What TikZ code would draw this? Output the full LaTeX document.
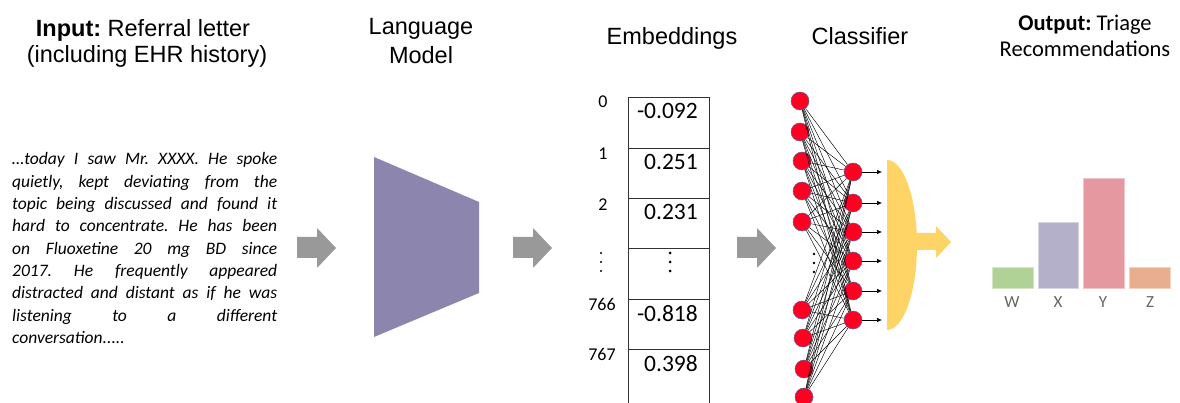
\documentclass[tikz,border=0pt]{standalone}
\usepackage{fontspec}
\setmainfont{Liberation Sans}
\newfontfamily\calfont{Carlito}
\usetikzlibrary{arrows.meta}
\usepackage{xcolor}
\frenchspacing

\definecolor{lmpurple}{RGB}{140,133,174}
\definecolor{arrowgray}{RGB}{153,153,153}
\definecolor{neuronred}{RGB}{255,0,34}
\definecolor{neuronedge}{RGB}{90,95,150}
\definecolor{gateyellow}{RGB}{255,212,102}
\definecolor{barW}{RGB}{176,210,150}
\definecolor{barX}{RGB}{181,176,201}
\definecolor{barY}{RGB}{230,152,160}
\definecolor{barZ}{RGB}{232,174,142}

\tikzset{
  title/.style={anchor=base, inner sep=0, font=\fontsize{23.5}{28}\selectfont},
  outtitle/.style={anchor=base, inner sep=0, font=\calfont\fontsize{22.5}{26}\selectfont},
  letterline/.style={anchor=base west, inner sep=0, font=\calfont\itshape\fontsize{17.5}{22}\selectfont},
  embval/.style={anchor=base east, inner sep=0, font=\calfont\fontsize{23.5}{26}\selectfont},
  embidx/.style={anchor=base, inner sep=0, font=\calfont\fontsize{18}{20}\selectfont},
  neuron/.style={circle, fill=neuronred, draw=neuronedge, line width=0.5pt, minimum size=18pt, inner sep=0},
  wire/.style={black, line width=0.45pt},
  barlabel/.style={inner sep=0, text=black!60, font=\calfont\fontsize{17}{20}\selectfont}
}

\begin{document}
\begin{tikzpicture}[x=1pt, y=-1pt]
    \useasboundingbox (0,0) rectangle (1180,403);

    % titles
    \node[title] (inputa) at (143,37) {\textbf{Input:} Referral letter};
    \node[title] (inputb) at (147,63) {(including EHR history)};
    \node[title] (lma) at (421,35) {Language};
    \node[title] (lmb) at (421,64) {Model};
    \node[title] (embtitle) at (672,45) {Embeddings};
    \node[title] (clftitle) at (860,45) {Classifier};
    \node[outtitle] (outa) at (1085,31) {\textbf{Output:} Triage};
    \node[outtitle] (outb) at (1085,57) {Recommendations};

    % referral letter
    \node[letterline] (l1) at (12,165.0) {\makebox[265pt][s]{…today I saw Mr. XXXX. He spoke}};
    \node[letterline] (l2) at (12,187.3) {\makebox[265pt][s]{quietly, kept deviating from the}};
    \node[letterline] (l3) at (12,209.6) {\makebox[265pt][s]{topic being discussed and found it}};
    \node[letterline] (l4) at (12,231.9) {\makebox[265pt][s]{hard to concentrate. He has been}};
    \node[letterline] (l5) at (12,254.2) {\makebox[265pt][s]{on Fluoxetine 20 mg BD since}};
    \node[letterline] (l6) at (12,276.5) {\makebox[265pt][s]{2017. He frequently appeared}};
    \node[letterline] (l7) at (12,298.8) {\makebox[265pt][s]{distracted and distant as if he was}};
    \node[letterline] (l8) at (12,321.1) {\makebox[265pt][s]{listening to a different}};
    \node[letterline] (l9) at (12,343.4) {conversation.....};

    % gray arrows
    \foreach \x in {297,513,737}
        \fill[arrowgray] (\x,237) -- (\x+20,237) -- (\x+20,228) -- (\x+39,248)
            -- (\x+20,268) -- (\x+20,258) -- (\x,258) -- cycle;

    % language model
    \fill[lmpurple] (374,157) -- (479,202) -- (479,293) -- (374,337) -- cycle;

    % embeddings table
    \draw[black!80, line width=0.9pt] (628,403) -- (628,97) -- (709,97) -- (709,403);
    \foreach \y in {148,198,248,299,349}
        \draw[black!80, line width=0.9pt] (628,\y) -- (709,\y);
    \node[embval] (v0) at (698,119) {-0.092};
    \node[embval] (v1) at (698,170) {0.251};
    \node[embval] (v2) at (698,220) {0.231};
    \node[embval] (v766) at (698,321) {-0.818};
    \node[embval] (v767) at (698,371) {0.398};
    \node[embidx] (i0) at (603,108) {0};
    \node[embidx] (i1) at (603,160) {1};
    \node[embidx] (i2) at (603,211) {2};
    \node[embidx] (i766) at (602,310) {766};
    \node[embidx] (i767) at (602,360) {767};
    \foreach \y in {253,262,271} {
        \fill (670,\y) circle (1.5);
        \fill (601,\y) circle (1.2);
    }

    % classifier network
    \foreach \x/\y [count=\i] in {800/101,800/132,802/161,802/191,802/222,802/310,803/338,804/369,804/397}
        \node[neuron] (in\i) at (\x,\y) {};
    \foreach \y [count=\j] in {172,203,232,261,291,320} {
        \node[neuron] (hid\j) at (853,\y) {};
        \coordinate (out\j) at (882,\y);
    }
    \foreach \i in {1,...,9}
        \foreach \j in {1,...,6}
            \draw[wire] (in\i) -- (hid\j);
    \foreach \j in {1,...,6}
        \draw[line width=0.6pt, -{Latex[length=5pt,width=4.5pt]}] (hid\j) -- (out\j);
    \foreach \y in {254,263,272}
        \fill (814,\y) circle (1.3);

    % softmax gate
    \fill[gateyellow] (887,160) arc[start angle=-90, end angle=90, x radius=30, y radius=85] -- cycle;
    \fill[gateyellow] (912,233) -- (936,233) -- (936,226) -- (951,242) -- (936,258)
        -- (936,250) -- (912,250) -- cycle;

    % bar chart
    \filldraw[fill=barW, draw=barW!55!white, line width=0.8pt] (992,267) rectangle (1033,288);
    \filldraw[fill=barX, draw=barX!55!white, line width=0.8pt] (1038,222) rectangle (1078,288);
    \filldraw[fill=barY, draw=barY!55!white, line width=0.8pt] (1083,178) rectangle (1124,288);
    \filldraw[fill=barZ, draw=barZ!55!white, line width=0.8pt] (1129,267) rectangle (1170,288);
    \node[barlabel] (labW) at (1012,302) {W};
    \node[barlabel] (labX) at (1058,302) {X};
    \node[barlabel] (labY) at (1103,302) {Y};
    \node[barlabel] (labZ) at (1150,302) {Z};
\end{tikzpicture}
\end{document}
